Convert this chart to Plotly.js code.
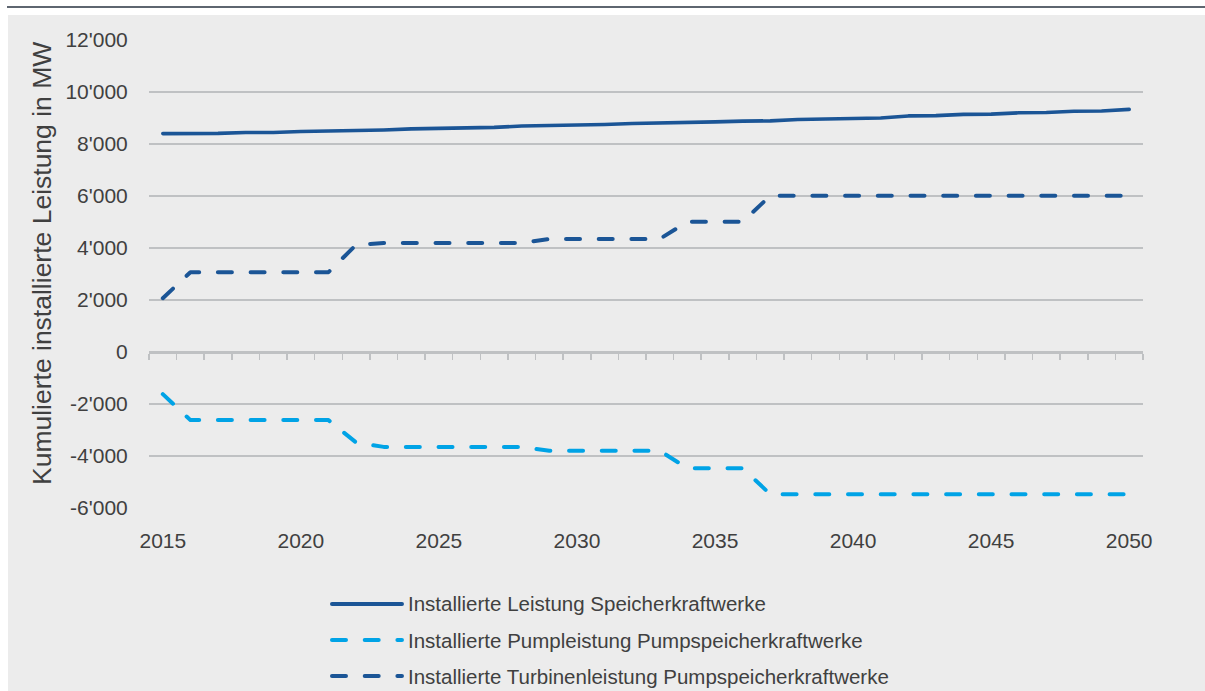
<!DOCTYPE html>
<html>
<head>
<meta charset="utf-8">
<script src="https://cdn.plot.ly/plotly-3.0.1.min.js"></script>
<style>
  html, body { margin: 0; padding: 0; background: #ffffff; width: 1205px; height: 691px; overflow: hidden; }
  #topRule { position: absolute; left: 7px; right: 0; top: 6px; height: 2px; background: #5e6670; }
  #chart { position: absolute; left: 8px; top: 15px; width: 1197px; height: 676px; }
  .scatterlayer .js-line, .shapelayer path { stroke-linecap: round; stroke-linejoin: round; }
</style>
</head>
<body>
<div id="topRule"></div>
<div id="chart"></div>
<script>
// Years 2015–2050
const years = [];
for (let y = 2015; y <= 2050; y++) years.push(y);

// Installed capacity of storage power plants (MW)
const speicher = [8400, 8400, 8410, 8440, 8440, 8480, 8490, 8530, 8540, 8580,
                  8590, 8630, 8640, 8690, 8700, 8740, 8750, 8790, 8800, 8840,
                  8850, 8880, 8890, 8940, 8950, 8990, 9000, 9080, 9090, 9140,
                  9150, 9200, 9210, 9260, 9270, 9330];

// Installed pumping capacity of pumped-storage plants (MW, negative)
const pump = [-1620, -2620, -2620, -2620, -2620, -2620, -2620, -3480, -3650, -3650,
              -3650, -3650, -3650, -3650, -3800, -3800, -3800, -3800, -3800, -4470,
              -4470, -4470, -5470, -5470, -5470, -5470, -5470, -5470, -5470, -5470,
              -5470, -5470, -5470, -5470, -5470, -5470];

// Installed turbine capacity of pumped-storage plants (MW)
const turbine = [2070, 3070, 3070, 3070, 3070, 3070, 3070, 4120, 4190, 4190,
                 4190, 4190, 4190, 4190, 4350, 4350, 4350, 4350, 4350, 5010,
                 5010, 5010, 6010, 6010, 6010, 6010, 6010, 6010, 6010, 6010,
                 6010, 6010, 6010, 6010, 6010, 6010];

const seriesNames = [
  "Installierte Leistung Speicherkraftwerke",
  "Installierte Pumpleistung Pumpspeicherkraftwerke",
  "Installierte Turbinenleistung Pumpspeicherkraftwerke"
];
const seriesColors = ["#1b5596", "#00a3e6", "#1b5596"];
const seriesDash = ["solid", "14px,18.7px", "14px,18.7px"];

const xTickVals = [2015, 2020, 2025, 2030, 2035, 2040, 2045, 2050];
const xTickText = ["2015", "2020", "2025", "2030", "2035", "2040", "2045", "2050"];
const yTickVals = [-6000, -4000, -2000, 0, 2000, 4000, 6000, 8000, 10000, 12000];
const yTickText = ["-6'000", "-4'000", "-2'000", "0", "2'000", "4'000", "6'000", "8'000", "10'000", "12'000"];
const yTitle = "Kumulierte installierte Leistung in MW";

// Category boundaries for the small ticks along the zero line
const boundaries = years.map(y => y - 0.5).concat([years[years.length - 1] + 0.5]);

const textColor = "#404040";
const gridColor = "#bfc1c3";
const font = "Liberation Sans, Arial, sans-serif";

const values = [speicher, pump, turbine];
const traces = values.map((v, i) => ({
  type: "scatter",
  mode: "lines",
  x: years,
  y: v,
  name: seriesNames[i],
  showlegend: false,
  line: { color: seriesColors[i], width: i === 0 ? 3.6 : 4, dash: seriesDash[i] },
  hoverinfo: "x+y+name"
}));

// Zero-line axis carrying category tick marks
traces.push({
  type: "scatter", mode: "lines", x: [years[0]], y: [0],
  xaxis: "x2", yaxis: "y", showlegend: false, hoverinfo: "skip",
  line: { width: 0 }
});

const xRange = [years[0] - 0.5, years[years.length - 1] + 0.5];
const yRange = [-6000, 12000];

// Legend drawn beneath the plot
const legendX0 = 0.1841, legendX1 = 0.2545, legendTextX = 0.2586;
const legendY = [-0.2051, -0.2821, -0.3590];
const shapes = seriesNames.map((n, i) => ({
  type: "line", xref: "paper", yref: "paper",
  x0: legendX0, x1: legendX1, y0: legendY[i], y1: legendY[i],
  line: { color: seriesColors[i], width: 4, dash: seriesDash[i] }
}));
const annotations = seriesNames.map((n, i) => ({
  xref: "paper", yref: "paper", x: legendTextX, y: legendY[i],
  xanchor: "left", yanchor: "middle", showarrow: false,
  text: n, font: { family: font, size: 20.5, color: textColor }
}));
annotations.push({
  xref: "paper", yref: "paper", x: -0.1076, y: 0.5214,
  xanchor: "center", yanchor: "middle", showarrow: false, textangle: -90,
  text: yTitle, font: { family: font, size: 26.5, color: textColor }
});

const layout = {
  width: 1197, height: 676,
  paper_bgcolor: "#ececec", plot_bgcolor: "#ececec",
  margin: { l: 141, r: 62, t: 25, b: 183 },
  font: { family: font, color: textColor },
  showlegend: false,
  xaxis: {
    range: xRange, tickvals: xTickVals, ticktext: xTickText,
    showgrid: false, zeroline: false, showline: false,
    ticks: "outside", ticklen: 14, tickcolor: "rgba(0,0,0,0)",
    tickfont: { family: font, size: 21, color: textColor }
  },
  xaxis2: {
    overlaying: "x", anchor: "free", position: 1 / 3, side: "bottom",
    range: xRange, tickvals: boundaries, showticklabels: false,
    showgrid: false, zeroline: false,
    showline: true, linecolor: gridColor, linewidth: 1.5,
    ticks: "outside", ticklen: 6, tickwidth: 1.5, tickcolor: gridColor
  },
  yaxis: {
    range: yRange, tickvals: yTickVals, ticktext: yTickText,
    showgrid: true, gridcolor: gridColor, gridwidth: 1.5,
    zeroline: false, showline: false,
    ticks: "outside", ticklen: 16, tickcolor: "rgba(0,0,0,0)",
    tickfont: { family: font, size: 21, color: textColor }
  },
  shapes: shapes,
  annotations: annotations
};

Plotly.newPlot("chart", traces, layout, { displayModeBar: false, staticPlot: true });
</script>
</body>
</html>
